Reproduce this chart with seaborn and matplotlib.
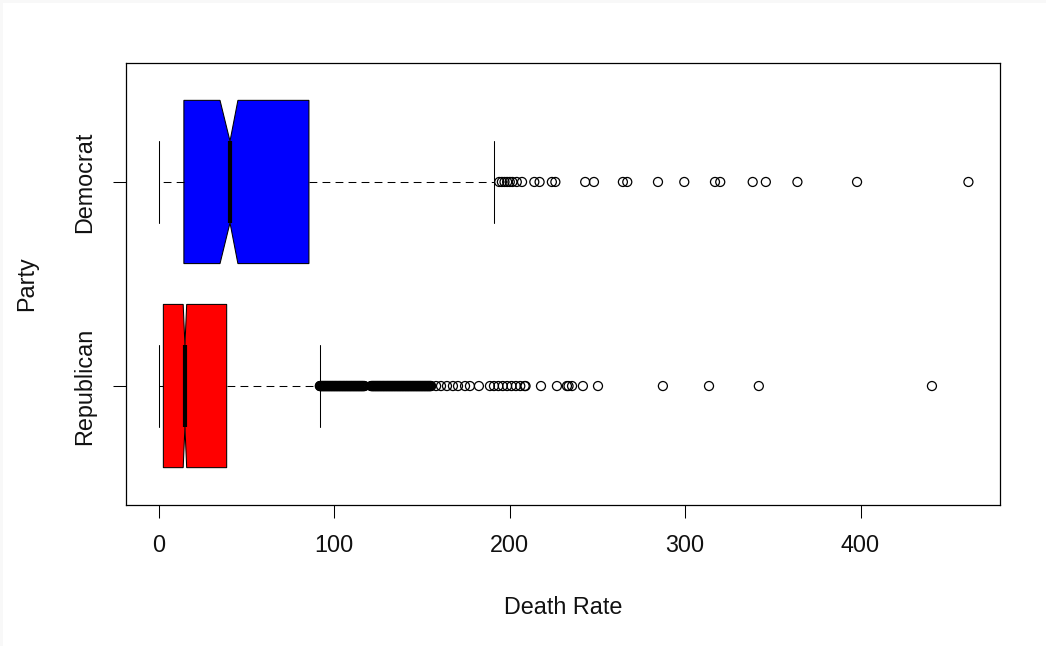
import pandas as pd
import matplotlib.pyplot as plt
import seaborn as sns
from matplotlib.patches import Rectangle

# DADOS (estatísticas do boxplot por partido)
partidos = ['Republican', 'Democrat']
cores = ['red', 'blue']
bigode_min = [0.0, 0.0]
q1 = [2.5, 14.2]
mediana = [14.8, 40.5]
q3 = [38.6, 85.5]
bigode_max = [91.7, 191.0]
notch_min = [13.8, 34.8]
notch_max = [15.8, 45.0]

# OUTLIERS (a faixa 92-155 dos republicanos é uma massa contínua de pontos)
outliers_rep = [
    91.7, 91.9, 92.3, 92.5, 92.8, 93.2, 93.4, 93.7, 94.1, 94.3, 94.6, 95.0,
    95.2, 95.5, 95.9, 96.1, 96.4, 96.8, 97.0, 97.3, 97.7, 97.9, 98.2, 98.6,
    98.8, 99.1, 99.5, 99.7, 100.0, 100.4, 100.6, 100.9, 101.3, 101.5, 101.8,
    102.2, 102.4, 102.7, 103.1, 103.3, 103.6, 104.0, 104.2, 104.5, 104.9,
    105.1, 105.4, 105.8, 106.0, 106.3, 106.7, 106.9, 107.2, 107.6, 107.8,
    108.1, 108.5, 108.7, 109.0, 109.4, 109.6, 109.9, 110.3, 110.5, 110.8,
    111.2, 111.4, 111.7, 112.1, 112.3, 112.6, 113.0, 113.2, 113.5, 113.9,
    114.1, 114.4, 114.8, 115.0, 115.3, 115.7, 115.9, 116.2, 116.6, 116.9,
    117.2, 120.9, 121.2, 121.5, 121.9, 122.1, 122.4, 122.8, 123.0, 123.3,
    123.7, 123.9, 124.2, 124.6, 124.8, 125.1, 125.5, 125.7, 126.0, 126.4,
    126.6, 126.9, 127.3, 127.5, 127.8, 128.2, 128.4, 128.7, 129.1, 129.3,
    129.6, 130.0, 130.2, 130.5, 130.9, 131.1, 131.4, 131.8, 132.0, 132.3,
    132.7, 132.9, 133.2, 133.6, 133.8, 134.1, 134.5, 134.7, 135.0, 135.4,
    135.6, 135.9, 136.3, 136.5, 136.8, 137.2, 137.4, 137.7, 138.1, 138.3,
    138.6, 139.0, 139.2, 139.5, 139.9, 140.1, 140.4, 140.8, 141.0, 141.3,
    141.7, 141.9, 142.2, 142.6, 142.8, 143.1, 143.5, 143.7, 144.0, 144.4,
    144.6, 144.9, 145.3, 145.5, 145.8, 146.2, 146.4, 146.7, 147.1, 147.3,
    147.6, 148.0, 148.2, 148.5, 148.9, 149.1, 149.4, 149.8, 150.0, 150.3,
    150.7, 150.9, 151.2, 151.6, 151.8, 152.1, 152.5, 152.7, 153.0, 153.4,
    153.6, 153.9, 154.3, 154.5, 154.8, 155.2,
    158.0, 160.8, 164.2, 167.6, 170.5, 174.5, 177.3, 182.4,
    188.7, 191.0, 193.5, 196.0, 198.5, 201.0, 203.5, 206.0, 208.5, 209.0,
    217.8, 226.9, 232.6, 233.5, 235.5, 241.7, 250.3,
    287.3, 313.6, 342.0, 440.7]
outliers_dem = [
    194.0, 195.5, 197.0, 198.5, 200.0, 201.5, 204.0, 207.0, 214.0, 217.0,
    224.0, 226.0, 243.0, 248.0, 264.5, 267.0, 284.5, 299.5, 317.0, 320.0,
    338.5, 346.0, 364.0, 398.0, 461.5]

sns.set_theme(style='ticks')
plt.rcParams['font.family'] = ['Liberation Sans', 'DejaVu Sans']

fig = plt.figure(figsize=(10.46, 6.46), dpi=100, facecolor='#f8f8f8')
# fundo branco com borda cinza clara no topo e à esquerda
fig.patches.append(Rectangle((3 / 1046, 0), 1, 1 - 3 / 646, transform=fig.transFigure,
                             facecolor='white', edgecolor='none', zorder=-10))
ax = fig.add_axes([126 / 1046, 1 - 505 / 646, 874 / 1046, 442 / 646])
ax.set_facecolor('white')

# MONTANDO AS CAIXAS
posicoes = list(range(1, len(partidos) + 1))
stats = []
for i in range(len(partidos)):
    stats.append({'whislo': bigode_min[i], 'q1': q1[i], 'med': mediana[i],
                  'q3': q3[i], 'whishi': bigode_max[i],
                  'cilo': notch_min[i], 'cihi': notch_max[i], 'fliers': []})

bp = ax.bxp(stats, positions=posicoes, widths=0.8, capwidths=0.4,
            orientation='horizontal', shownotches=True, patch_artist=True,
            showfliers=False,
            boxprops=dict(edgecolor='black', linewidth=0.75),
            whiskerprops=dict(color='black', linestyle=(0, (7.5, 5)), linewidth=0.75),
            capprops=dict(color='black', linewidth=0.75),
            medianprops=dict(color='black', linewidth=3, solid_capstyle='butt'))
for caixa, cor in zip(bp['boxes'], cores):
    caixa.set_facecolor(cor)

# OUTLIERS COM SEABORN
df_out = pd.DataFrame({
    'valor': outliers_rep + outliers_dem,
    'partido': ['Republican'] * len(outliers_rep) + ['Democrat'] * len(outliers_dem)})
df_out['pos'] = df_out['partido'].map({p: i + 1 for i, p in enumerate(partidos)})

sns.scatterplot(data=df_out, x='valor', y='pos', ax=ax, marker='o', s=42,
                facecolors='none', edgecolor='black', linewidth=0.9,
                zorder=3, legend=False)

ax.set_xlim(-18.8, 479.5)
ax.set_ylim(0.417, 2.583)
ax.set_xticks([0, 100, 200, 300, 400])
ax.set_xticklabels(['0', '100', '200', '300', '400'])
ax.set_yticks(posicoes)
ax.set_yticklabels(partidos, rotation=90, va='center')

for lado in ax.spines.values():
    lado.set_visible(True)
    lado.set_color('black')
    lado.set_linewidth(0.9)
ax.tick_params(axis='both', length=9.7, width=0.75, pad=11.5,
               labelsize=16.8, color='black', labelcolor='#111111')

ax.set_xlabel('Death Rate', fontsize=16.8, color='#111111')
ax.set_ylabel('Party', fontsize=16.8, color='#111111')
ax.xaxis.set_label_coords(0.5, -0.231)
ax.xaxis.label.set_va('center')
ax.yaxis.set_label_coords(-0.1133, 0.5)
ax.yaxis.label.set_va('center')

plt.savefig('out.png', dpi=100, facecolor=fig.get_facecolor())
